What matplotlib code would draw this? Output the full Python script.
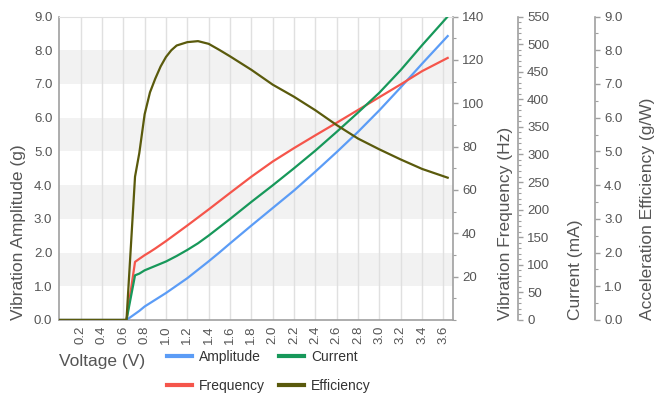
import numpy as np
import matplotlib
matplotlib.use('Agg')
import matplotlib.pyplot as plt
from matplotlib.ticker import MultipleLocator, FormatStrFormatter

plt.rcParams['font.family'] = ['Liberation Sans', 'DejaVu Sans']

# --- data ---
voltage = [0, 0.63, 0.71, 0.75, 0.8, 0.85, 0.9, 0.95, 1.0, 1.05, 1.1, 1.2, 1.3, 1.4,
           1.5, 1.6, 1.8, 2.0, 2.2, 2.4, 2.6, 2.8, 3.0, 3.2, 3.4, 3.64]
amplitude = [0, 0, 0.18, 0.27, 0.40, 0.50, 0.60, 0.70, 0.80, 0.91, 1.02, 1.24, 1.49, 1.74,
             2.00, 2.27, 2.80, 3.32, 3.84, 4.40, 4.98, 5.58, 6.22, 6.90, 7.60, 8.42]
frequency = [0, 0, 26.8, 28.2, 29.9, 31.4, 33.0, 34.7, 36.4, 38.2, 40.0, 43.6, 47.3, 51.0,
             54.8, 58.6, 66.1, 73.1, 79.3, 85.2, 91.0, 96.9, 102.8, 108.7, 114.8, 120.9]
current = [0, 0, 81, 84, 90, 94, 98, 102, 106, 111, 116, 127, 139, 153,
           168, 183, 214, 244, 275, 307, 341, 376, 412, 453, 498, 550]
efficiency = [0, 0, 4.25, 4.95, 6.1, 6.75, 7.16, 7.52, 7.8, 8.0, 8.14, 8.24, 8.27, 8.19,
              8.01, 7.82, 7.42, 6.98, 6.62, 6.22, 5.78, 5.38, 5.06, 4.76, 4.48, 4.22]

c_amp = '#5b9cf6'
c_freq = '#f5554b'
c_cur = '#17985a'
c_eff = '#5a5a0c'
grid_c = '#e0e0e0'
spine_c = '#a0a0a0'
text_c = '#555555'

fig = plt.figure(figsize=(6.6, 3.98), dpi=100)
ax = fig.add_axes([0.0898, 0.196, 0.5966, 0.7625])
ax_f = ax.twinx()
ax_c = ax.twinx()
ax_e = ax.twinx()

# background bands + vertical grid
for lo in [1, 3, 5, 7]:
    ax.axhspan(lo, lo + 1, color='#f2f2f2', zorder=0, lw=0)
ax.set_xlim(0, 3.69)
ax.set_ylim(0, 9)
ax.set_xticks(np.arange(0.2, 3.61, 0.2))
ax.xaxis.set_major_formatter(FormatStrFormatter('%.1f'))
ax.yaxis.set_major_locator(MultipleLocator(1))
ax.yaxis.set_major_formatter(FormatStrFormatter('%.1f'))
ax.grid(axis='x', color=grid_c, lw=1)
ax.set_axisbelow(True)
ax.tick_params(axis='x', length=0, pad=4, labelrotation=90, labelsize=9.5, labelcolor=text_c)
ax.tick_params(axis='y', length=0, pad=5, labelsize=9.5, labelcolor=text_c)
for s in ['left', 'bottom', 'right']:
    ax.spines[s].set_color(spine_c)
    ax.spines[s].set_linewidth(1.2)
ax.spines['top'].set_color(grid_c)

# lines
la, = ax.plot(voltage, amplitude, color=c_amp, lw=1.6, zorder=3)
lf, = ax_f.plot(voltage, frequency, color=c_freq, lw=1.6, zorder=3)
lc, = ax_c.plot(voltage, current, color=c_cur, lw=1.6, zorder=3)
le, = ax_e.plot(voltage, efficiency, color=c_eff, lw=1.6, zorder=3)

# right axes
ax_f.set_ylim(0, 140)
ax_f.set_yticks(np.arange(20, 141, 20))
ax_f.yaxis.set_minor_locator(MultipleLocator(10))

ax_c.set_ylim(0, 550)
ax_c.yaxis.set_major_locator(MultipleLocator(50))
ax_c.yaxis.set_minor_locator(MultipleLocator(10))
ax_c.spines['right'].set_position(('axes', 1.165))

ax_e.set_ylim(0, 9)
ax_e.yaxis.set_major_locator(MultipleLocator(1))
ax_e.yaxis.set_minor_locator(MultipleLocator(0.5))
ax_e.yaxis.set_major_formatter(FormatStrFormatter('%.1f'))
ax_e.spines['right'].set_position(('axes', 1.3607))

for a in [ax_f, ax_c, ax_e]:
    for s in ['left', 'top', 'bottom']:
        a.spines[s].set_visible(False)
    a.spines['right'].set_color(spine_c)
    a.spines['right'].set_linewidth(1.2)
    a.tick_params(axis='y', which='major', length=3.5, width=1, color=spine_c,
                  pad=3, labelsize=9.5, labelcolor=text_c)
    a.tick_params(axis='y', which='minor', length=2.5, width=0.8, color=spine_c)
ax_f.spines['right'].set_visible(False)

# axis labels
lab_kw = dict(fontsize=12.5, color=text_c)
ax.set_xlabel('Voltage (V)', loc='left', **lab_kw)
ax.xaxis.set_label_coords(0, -0.112)
ax.set_ylabel('Vibration Amplitude (g)', loc='bottom', **lab_kw)
ax.yaxis.set_label_coords(-0.085, 0)
ax_f.set_ylabel('Vibration Frequency (Hz)', loc='bottom', **lab_kw)
ax_f.yaxis.set_label_coords(1.115, 0)
ax_c.set_ylabel('Current (mA)', loc='bottom', **lab_kw)
ax_c.yaxis.set_label_coords(1.293, 0)
ax_e.set_ylabel('Acceleration Efficiency (g/W)', loc='bottom', **lab_kw)
ax_e.yaxis.set_label_coords(1.476, 0)

# legend
fig.legend([la, lf, lc, le], ['Amplitude', 'Frequency', 'Current', 'Efficiency'],
           ncol=2, loc='upper left', bbox_to_anchor=(0.253, 0.12), frameon=False,
           fontsize=10, handlelength=1.8, handletextpad=0.5, columnspacing=1.0,
           labelspacing=1.05, borderpad=0, borderaxespad=0)
for t in fig.legends[0].get_texts():
    t.set_color('#333333')
for h in fig.legends[0].legend_handles:
    h.set_linewidth(3)

fig.savefig('out.png', dpi=100)
